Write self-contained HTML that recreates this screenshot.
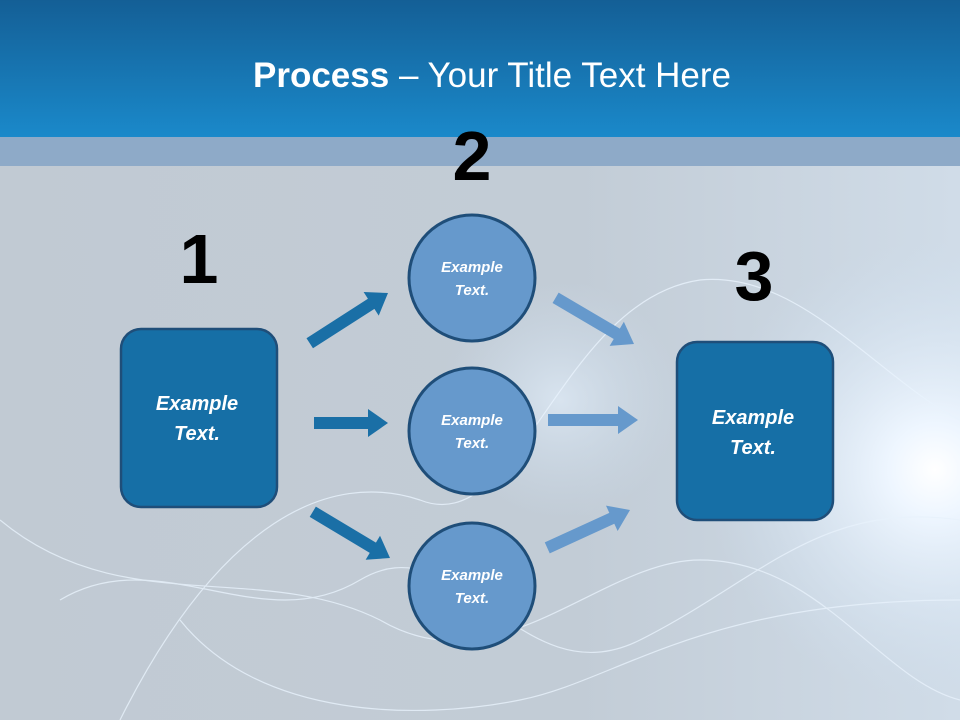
<!DOCTYPE html>
<html><head><meta charset="utf-8"><style>
html,body{margin:0;padding:0;width:960px;height:720px;overflow:hidden}
svg{display:block}
</style></head><body>
<svg width="960" height="720" viewBox="0 0 960 720" xmlns="http://www.w3.org/2000/svg" font-family="'Liberation Sans', sans-serif">
<defs>
<linearGradient id="hd" x1="0" y1="0" x2="0" y2="1"><stop offset="0" stop-color="#145f96"/><stop offset="1" stop-color="#1a89ca"/></linearGradient>
<linearGradient id="bg" x1="0" y1="0" x2="1" y2="0"><stop offset="0" stop-color="#c1cad3"/><stop offset="0.6" stop-color="#c2ccd6"/><stop offset="1" stop-color="#d0dce8"/></linearGradient>
<radialGradient id="glow" cx="935" cy="470" r="230" gradientUnits="userSpaceOnUse"><stop offset="0" stop-color="#ffffff"/><stop offset="0.2" stop-color="#eef6ff"/><stop offset="1" stop-color="#cfe0f0" stop-opacity="0"/></radialGradient>
<radialGradient id="g2" cx="560" cy="400" r="120" gradientUnits="userSpaceOnUse"><stop offset="0" stop-color="#e2eefa" stop-opacity="0.7"/><stop offset="1" stop-color="#cfe0f0" stop-opacity="0"/></radialGradient>
</defs>
<rect width="960" height="720" fill="url(#bg)"/>
<rect width="960" height="720" fill="url(#g2)"/>
<rect width="960" height="720" fill="url(#glow)"/>
<g fill="none" stroke="#e8f2fc" stroke-width="1.2" opacity="0.8">
<path d="M120,720 C220,520 330,470 420,500 C520,540 560,300 700,280 C800,270 880,380 960,420"/>
<path d="M60,600 C160,540 260,640 360,580 C460,520 520,700 640,640 C760,580 820,500 960,520"/>
<path d="M0,520 C120,620 260,560 380,620 C500,690 600,560 700,560 C820,560 880,680 960,700"/>
<path d="M180,620 C260,720 420,720 520,700 C620,680 700,600 960,600"/>
</g>
<rect width="960" height="137" fill="url(#hd)"/>
<rect y="137" width="960" height="29" fill="#8eaac8"/>
<text x="492" y="87" text-anchor="middle" font-size="35" fill="#fff"><tspan font-weight="bold">Process</tspan> – Your Title Text Here</text>
<g font-size="70" font-weight="bold" fill="#000" text-anchor="middle">
<text x="199" y="283">1</text><text x="472" y="180">2</text><text x="754" y="300">3</text>
</g>
<g fill="#1a6fa6">
<path transform="translate(388,293) rotate(-32.7)" d="M-93,-6 L-20,-6 L-20,-14 L0,0 L-20,14 L-20,6 L-93,6Z"/>
<path transform="translate(388,423)" d="M-74,-6 L-20,-6 L-20,-14 L0,0 L-20,14 L-20,6 L-74,6Z"/>
<path transform="translate(390,558) rotate(30.9)" d="M-90,-6 L-20,-6 L-20,-14 L0,0 L-20,14 L-20,6 L-90,6Z"/>
</g>
<g fill="#6699cc">
<path transform="translate(634,344) rotate(30.5)" d="M-91,-6 L-20,-6 L-20,-14 L0,0 L-20,14 L-20,6 L-91,6Z"/>
<path transform="translate(638,420)" d="M-90,-6 L-20,-6 L-20,-14 L0,0 L-20,14 L-20,6 L-90,6Z"/>
<path transform="translate(630,510) rotate(-24.6)" d="M-91,-6 L-20,-6 L-20,-14 L0,0 L-20,14 L-20,6 L-91,6Z"/>
</g>
<rect x="121" y="329" width="156" height="178" rx="20" fill="#166fa6" stroke="#1f4e79" stroke-width="2.5"/>
<rect x="677" y="342" width="156" height="178" rx="20" fill="#166fa6" stroke="#1f4e79" stroke-width="2.5"/>
<g fill="#6699cc" stroke="#1f4e79" stroke-width="3">
<circle cx="472" cy="278" r="63"/><circle cx="472" cy="431" r="63"/><circle cx="472" cy="586" r="63"/>
</g>
<g fill="#fff" font-style="italic" font-weight="bold" text-anchor="middle">
<g font-size="20"><text x="197" y="410">Example</text><text x="197" y="440">Text.</text>
<text x="753" y="424">Example</text><text x="753" y="454">Text.</text></g>
<g font-size="15"><text x="472" y="272">Example</text><text x="472" y="295">Text.</text>
<text x="472" y="425">Example</text><text x="472" y="448">Text.</text>
<text x="472" y="580">Example</text><text x="472" y="603">Text.</text></g>
</g>
</svg>
</body></html>
